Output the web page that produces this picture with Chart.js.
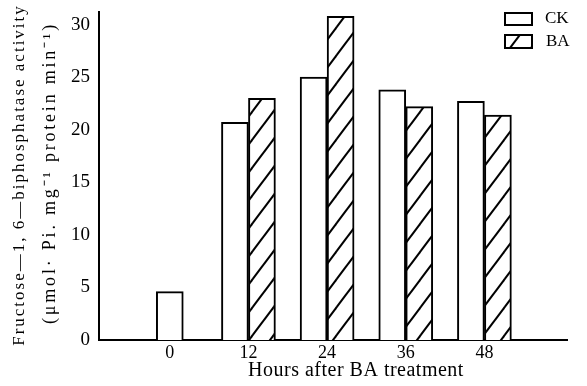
<!DOCTYPE html>
<html>
<head>
<meta charset="utf-8">
<script src="https://cdn.jsdelivr.net/npm/chart.js@4/dist/chart.umd.min.js"></script>
<style>
  html, body { margin: 0; padding: 0; background: #fff; }
  #wrap { width: 587px; height: 386px; }
</style>
</head>
<body>
<div id="wrap"><canvas id="fbpChart" width="587" height="386"></canvas></div>
<script>
const hours = [0, 12, 24, 36, 48];
const ckValues = [4.6, 20.7, 25.0, 23.8, 22.7];
const baValues = [null, 23.0, 30.8, 22.2, 21.4];
const yTicks = [0, 5, 10, 15, 20, 25, 30];
const seriesNames = ['CK', 'BA'];
const yTitle = ['Fructose—1, 6—biphosphatase activity', '(μmol· Pi. mg⁻¹ protein min⁻¹)'];
const xTitle = 'Hours after BA treatment';

const serif = 'Liberation Serif';

// diagonal "/" hatching for the BA bars
const makeHatch = () => {
    const w = 21, h = 28;
    const c = document.createElement('canvas');
    c.width = w;
    c.height = h;
    const g = c.getContext('2d');
    g.fillStyle = '#fff';
    g.fillRect(0, 0, w, h);
    g.strokeStyle = '#000';
    g.lineWidth = 2;
    for (let k = 0; k <= 2; k++) {
        // line x/w + y/h = k
        g.beginPath();
        g.moveTo(-w, (k + 1) * h);
        g.lineTo(2 * w, (k - 2) * h);
        g.stroke();
    }
    return g.createPattern(c, 'repeat');
};
const hatch = makeHatch();

// stacked legend top right, axis titles (the print is letter-spaced)
const extras = {
    id: 'extras',
    afterDraw(chart) {
        const ctx = chart.ctx;
        ctx.save();
        ctx.lineWidth = 2;
        ctx.strokeStyle = '#000';
        ctx.fillStyle = '#fff';
        ctx.fillRect(505, 13, 27, 12);
        ctx.strokeRect(505, 13, 27, 12);
        ctx.fillStyle = hatch;
        ctx.fillRect(505, 35, 27, 13);
        ctx.strokeRect(505, 35, 27, 13);

        ctx.fillStyle = '#000';
        ctx.font = '17px "' + serif + '"';
        ctx.textBaseline = 'middle';
        ctx.textAlign = 'left';
        ctx.fillText(seriesNames[0], 545, 19);
        ctx.fillText(seriesNames[1], 546, 42);

        ctx.font = '20px "' + serif + '"';
        ctx.textAlign = 'center';
        ctx.letterSpacing = '0.5px';
        ctx.fillText(xTitle, 356, 371);

        ctx.font = '17px "' + serif + '"';
        ctx.translate(20, 175);
        ctx.rotate(-Math.PI / 2);
        ctx.letterSpacing = '2px';
        ctx.fillText(yTitle[0], 0, 0);
        ctx.font = '18px "' + serif + '"';
        ctx.letterSpacing = '2.8px';
        ctx.fillText(yTitle[1], 2, 30);
        ctx.restore();
    }
};

const fbpChart = new Chart(document.getElementById('fbpChart'), {
    type: 'bar',
    data: {
        datasets: [{
            label: seriesNames[0],
            data: hours.map((h, i) => ({ x: h, y: ckValues[i] })),
            backgroundColor: '#fff',
            borderColor: '#000',
            borderWidth: 2,
            barThickness: 27,
            skipNull: true,
        }, {
            label: seriesNames[1],
            data: hours.map((h, i) => ({ x: h, y: baValues[i] })),
            backgroundColor: hatch,
            borderColor: '#000',
            borderWidth: 2,
            barThickness: 27,
            skipNull: true,
        }]
    },
    options: {
        responsive: false,
        animation: false,
        layout: { padding: { left: 0, top: 12, right: 20, bottom: 0 } },
        plugins: {
            legend: { display: false },
            tooltip: { enabled: false },
        },
        scales: {
            x: {
                type: 'linear',
                offset: false,
                min: -10.8,
                max: 60.6,
                grid: { display: false, drawTicks: false, offset: false },
                border: { display: true, color: '#000', width: 2 },
                ticks: {
                    color: '#000',
                    padding: 2,
                    font: { family: serif, size: 18 },
                },
                afterBuildTicks: (scale) => {
                    scale.ticks = hours.map(v => ({ value: v }));
                },
                afterFit: (scale) => {
                    scale.height = 46;
                    scale.paddingLeft = 0;
                    scale.paddingRight = 0;
                },
            },
            y: {
                min: 0,
                max: 31.2,
                grid: { display: false, drawTicks: false },
                border: { display: true, color: '#000', width: 2 },
                ticks: {
                    color: '#000',
                    padding: 9,
                    font: { family: serif, size: 19, lineHeight: 1 },
                },
                afterBuildTicks: (scale) => {
                    scale.ticks = yTicks.map(v => ({ value: v }));
                },
                afterFit: (scale) => {
                    scale.width = 99;
                    scale.paddingTop = 0;
                    scale.paddingBottom = 0;
                },
            },
        },
    },
    plugins: [extras],
});
</script>
</body>
</html>
